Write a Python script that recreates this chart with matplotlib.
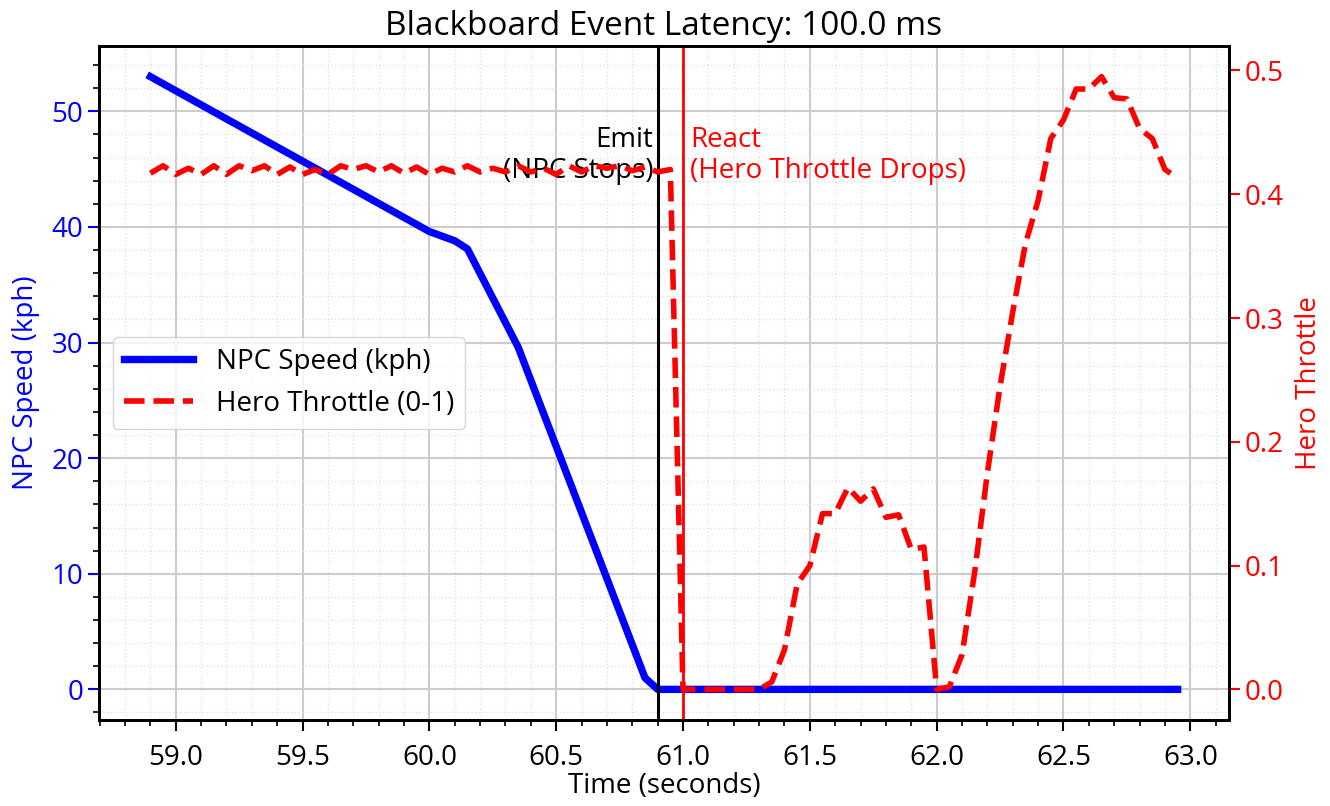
import numpy as np
import matplotlib
matplotlib.use("Agg")
import matplotlib.pyplot as plt
from matplotlib.ticker import MultipleLocator

plt.rcParams['font.family'] = ['Open Sans', 'DejaVu Sans']

# ---------------- data ----------------
npc_time = [58.90, 60.00, 60.10, 60.15, 60.35, 60.85, 60.90, 62.95]
npc_speed = [53.0, 39.6, 38.8, 38.1, 29.6, 1.0, 0.0, 0.0]

hero_time = [
    58.90, 58.95, 59.00, 59.05, 59.10, 59.15, 59.20, 59.25, 59.30, 59.35,
    59.40, 59.45, 59.50, 59.55, 59.60, 59.65, 59.70, 59.75, 59.80, 59.85,
    59.90, 59.95, 60.00, 60.05, 60.10, 60.15, 60.20, 60.25, 60.30, 60.35,
    60.40, 60.45, 60.50, 60.55, 60.60, 60.65, 60.70, 60.75, 60.80, 60.85,
    60.90, 60.95, 61.00, 61.05, 61.10, 61.15, 61.20, 61.25, 61.30, 61.35,
    61.40, 61.45, 61.50, 61.55, 61.60, 61.65, 61.70, 61.75, 61.80, 61.85,
    61.90, 61.95, 62.00, 62.05, 62.10, 62.15, 62.20, 62.25, 62.30, 62.35,
    62.40, 62.45, 62.50, 62.55, 62.60, 62.65, 62.70, 62.75, 62.80, 62.85,
    62.90, 62.95,
]
hero_throttle = [
    0.417, 0.423, 0.416, 0.421, 0.416, 0.423, 0.416, 0.423, 0.419, 0.423,
    0.416, 0.422, 0.416, 0.420, 0.416, 0.423, 0.420, 0.423, 0.418, 0.423,
    0.417, 0.422, 0.416, 0.421, 0.418, 0.423, 0.418, 0.421, 0.418, 0.423,
    0.418, 0.421, 0.416, 0.423, 0.418, 0.423, 0.421, 0.423, 0.419, 0.422,
    0.418, 0.420, 0.000, 0.000, 0.000, 0.000, 0.000, 0.000, 0.000, 0.006,
    0.032, 0.085, 0.100, 0.142, 0.142, 0.163, 0.152, 0.162, 0.139, 0.141,
    0.113, 0.115, 0.000, 0.002, 0.028, 0.095, 0.175, 0.245, 0.305, 0.360,
    0.395, 0.445, 0.460, 0.485, 0.485, 0.495, 0.478, 0.477, 0.453, 0.445,
    0.420, 0.413,
]

emit_time = 60.9
react_time = 61.0
latency_ms = 100.0

# ---------------- figure ----------------
fig = plt.figure(figsize=(13.3, 8.06), dpi=100)
ax = fig.add_axes([99/1330, 1-720/806, (1229-99)/1330, (720-46)/806])
ax2 = ax.twinx()

ax.plot(npc_time, npc_speed, color='blue', lw=5.3, label='NPC Speed (kph)', zorder=3)
ax2.plot(hero_time, hero_throttle, color='red', lw=4, ls='--', label='Hero Throttle (0-1)')

ax.axvline(emit_time, color='black', lw=2.2, zorder=4)
ax.axvline(react_time, color='red', lw=2.0, zorder=4)

ax.annotate('Emit\n(NPC Stops)', xy=(emit_time, 46.2), xytext=(-3, 0),
            textcoords='offset points', ha='right', va='center',
            fontsize=20, color='black', linespacing=1.15)
ax.annotate('React\n(Hero Throttle Drops)', xy=(react_time, 46.2), xytext=(5, 0),
            textcoords='offset points', ha='left', va='center',
            fontsize=20, color='red', linespacing=1.15)

ax.set_title(f'Blackboard Event Latency: {latency_ms} ms', fontsize=24, pad=8)
ax.set_xlabel('Time (seconds)', fontsize=20, labelpad=0)
ax.set_ylabel('NPC Speed (kph)', fontsize=20, color='blue', labelpad=8)
ax2.set_ylabel('Hero Throttle', fontsize=20, color='red', labelpad=8)

ax.xaxis.set_minor_locator(MultipleLocator(0.1))
ax.yaxis.set_minor_locator(MultipleLocator(2))
ax.set_xticks([59.0, 59.5, 60.0, 60.5, 61.0, 61.5, 62.0, 62.5, 63.0])
ax.set_xticklabels(['59.0', '59.5', '60.0', '60.5', '61.0', '61.5', '62.0', '62.5', '63.0'])

ax.tick_params(axis='both', which='major', labelsize=20, length=8, width=1.5)
ax.tick_params(axis='x', which='major', pad=9)
ax.tick_params(axis='both', which='minor', length=4, width=1.2)
ax.tick_params(axis='y', which='major', colors='blue')
ax2.tick_params(axis='y', which='major', labelsize=20, length=8, width=1.5, colors='red')

for a in (ax, ax2):
    for s in a.spines.values():
        s.set_linewidth(2.0)
        s.set_color('black')

ax.grid(True, which='major', color='#cccccc', lw=1.5)
ax.grid(True, which='minor', color='#e3e3e3', lw=1.0, ls=':')
ax.set_axisbelow(True)

h1, l1 = ax.get_legend_handles_labels()
h2, l2 = ax2.get_legend_handles_labels()
leg = ax2.legend(h1 + h2, l1 + l2, loc='center left', fontsize=20,
                 handlelength=2.5, borderaxespad=0.5)

fig.savefig('out.png', dpi=100)
